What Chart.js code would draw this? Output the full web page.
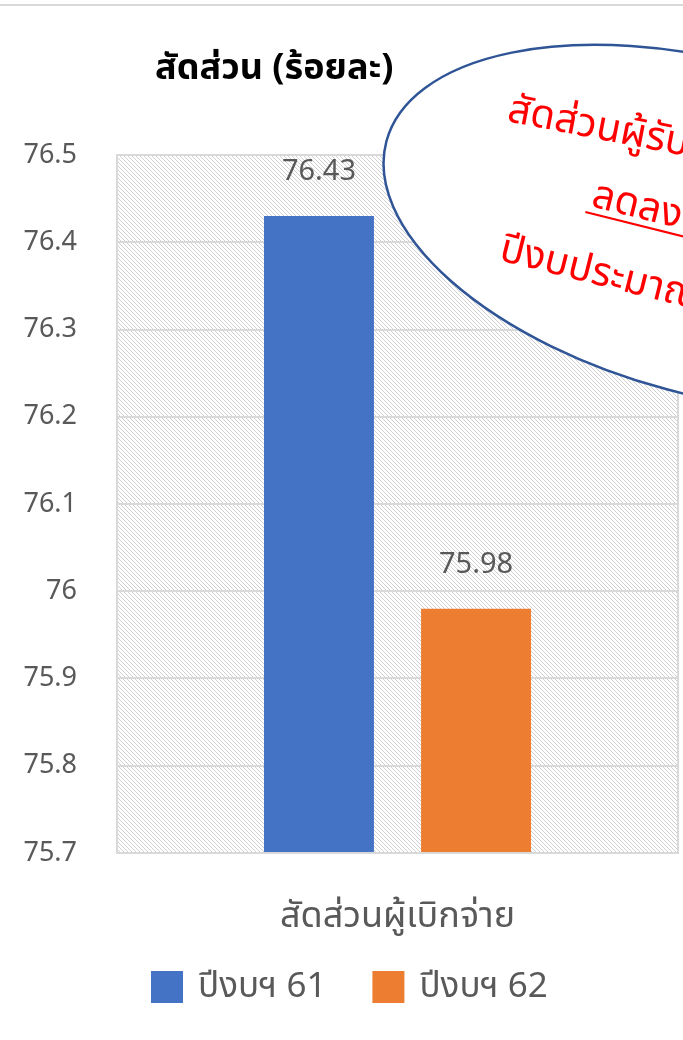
<!DOCTYPE html>
<html>
<head>
<meta charset="utf-8">
<script src="https://cdn.jsdelivr.net/npm/chart.js@4.4.0/dist/chart.umd.min.js"></script>
<style>
  body { margin: 0; background: #fff; }
  #wrap { width: 683px; height: 1040px; position: relative; }
</style>
</head>
<body>
<div id="wrap"><canvas id="chart"></canvas></div>
<script>
// ข้อมูลกราฟ
const categories = ['สัดส่วนผู้เบิกจ่าย'];
const seriesNames = ['ปีงบฯ 61', 'ปีงบฯ 62'];
const seriesColors = ['#4472c4', '#ed7d31'];
const values61 = [76.43];
const values62 = [75.98];
const yTicks = [75.7, 75.8, 75.9, 76, 76.1, 76.2, 76.3, 76.4, 76.5];
const titleText = 'สัดส่วน (ร้อยละ)';
const noteLines = ['สัดส่วนผู้รับบริการ', 'ลดลงจาก', 'ปีงบประมาณ 61'];

const FONT = '"Noto Sans", "Noto Sans Thai", sans-serif';

// สร้างลายเส้นทแยงสำหรับพื้นหลังกราฟ
function makeHatch() {
    const c = document.createElement('canvas');
    c.width = 4; c.height = 4;
    const g = c.getContext('2d');
    g.fillStyle = '#ffffff';
    g.fillRect(0, 0, 4, 4);
    g.strokeStyle = '#d0d0d0';
    g.lineWidth = 1;
    g.beginPath();
    g.moveTo(-1, -1); g.lineTo(5, 5);
    g.moveTo(-1, 3); g.lineTo(1, 5);
    g.moveTo(3, -1); g.lineTo(5, 1);
    g.stroke();
    return g.createPattern(c, 'repeat');
}

// พื้นหลัง กรอบ ชื่อแกน วงรี และคำอธิบายสัญลักษณ์
const decorPlugin = {
    id: 'decor',
    beforeDraw(chart) {
        const { ctx, chartArea: a } = chart;
        ctx.save();
        ctx.fillStyle = '#d9d9d9';
        ctx.fillRect(0, 4, chart.width, 2);
        ctx.fillStyle = makeHatch();
        ctx.fillRect(a.left, a.top, a.right - a.left, a.bottom - a.top);
        ctx.restore();
    },
    afterDraw(chart) {
        const { ctx, chartArea: a } = chart;
        ctx.save();
        ctx.strokeStyle = '#d9d9d9';
        ctx.lineWidth = 2;
        ctx.strokeRect(a.left, a.top, a.right - a.left, a.bottom - a.top);

        // ชื่อแกน
        ctx.fillStyle = '#000';
        ctx.font = 'bold 36px ' + FONT;
        ctx.textBaseline = 'middle';
        ctx.fillText(titleText, 155, 69);

        // legend
        ctx.font = '35px ' + FONT;
        let x = 151;
        seriesNames.forEach((name, i) => {
            ctx.fillStyle = seriesColors[i];
            ctx.fillRect(x, 971, 32, 32);
            ctx.fillStyle = '#595959';
            ctx.fillText(name, x + 47, 987);
            x += 47 + ctx.measureText(name).width + 46;
        });

        // วงรีข้อความ
        ctx.save();
        ctx.translate(710, 228);
        ctx.rotate(15 * Math.PI / 180);
        ctx.beginPath();
        ctx.ellipse(0, 0, 335, 167, 0, 0, Math.PI * 2);
        ctx.fillStyle = '#fff';
        ctx.fill();
        ctx.lineWidth = 2.5;
        ctx.strokeStyle = '#2f5597';
        ctx.stroke();
        ctx.restore();

        ctx.fillStyle = '#ff0000';
        ctx.font = '40px ' + FONT;
        ctx.textBaseline = 'alphabetic';
        const lines = [
            { x: 506, y: 121, r: 11 },
            { x: 590, y: 206, r: 14, u: true },
            { x: 498, y: 260, r: 14 }
        ];
        lines.forEach((p, i) => {
            ctx.save();
            ctx.translate(p.x, p.y);
            ctx.rotate(p.r * Math.PI / 180);
            ctx.fillText(noteLines[i], 0, 0);
            if (p.u) {
                ctx.fillRect(-3, 6, ctx.measureText(noteLines[i]).width, 2);
            }
            ctx.restore();
        });
        ctx.restore();
    }
};

// ค่าบนแท่ง
const valueLabelPlugin = {
    id: 'valueLabels',
    afterDatasetsDraw(chart) {
        const { ctx } = chart;
        ctx.save();
        ctx.fillStyle = '#595959';
        ctx.font = '29px ' + FONT;
        ctx.textAlign = 'center';
        ctx.textBaseline = 'middle';
        chart.data.datasets.forEach((ds, i) => {
            chart.getDatasetMeta(i).data.forEach((bar, j) => {
                ctx.fillText(ds.data[j].toFixed(2), bar.x, bar.y - 44);
            });
        });
        ctx.restore();
    }
};

new Chart(document.getElementById('chart'), {
    type: 'bar',
    data: {
        labels: categories,
        datasets: [
            { label: seriesNames[0], data: values61, backgroundColor: seriesColors[0] },
            { label: seriesNames[1], data: values62, backgroundColor: seriesColors[1] }
        ]
    },
    options: {
        responsive: true,
        maintainAspectRatio: false,
        animation: false,
        layout: { padding: { top: 155, right: 5, left: 0, bottom: 0 } },
        datasets: { bar: { categoryPercentage: 0.56, barPercentage: 0.70 } },
        scales: {
            x: {
                afterFit(scale) { scale.height = 187; },
                grid: { display: false },
                border: { display: false },
                ticks: { color: '#595959', font: { size: 36, family: FONT }, padding: 34 }
            },
            y: {
                min: yTicks[0],
                max: yTicks[yTicks.length - 1],
                afterBuildTicks(scale) {
                    scale.ticks = yTicks.map(v => ({ value: v }));
                },
                afterFit(scale) { scale.width = 117; },
                grid: { color: '#d9d9d9', lineWidth: 2, drawTicks: false },
                border: { display: false },
                ticks: {
                    color: '#595959',
                    font: { size: 27, family: FONT },
                    padding: 40,
                    callback: v => String(parseFloat(v.toFixed(1)))
                }
            }
        },
        plugins: {
            legend: { display: false },
            tooltip: { enabled: false }
        }
    },
    plugins: [decorPlugin, valueLabelPlugin]
});
</script>
</body>
</html>
